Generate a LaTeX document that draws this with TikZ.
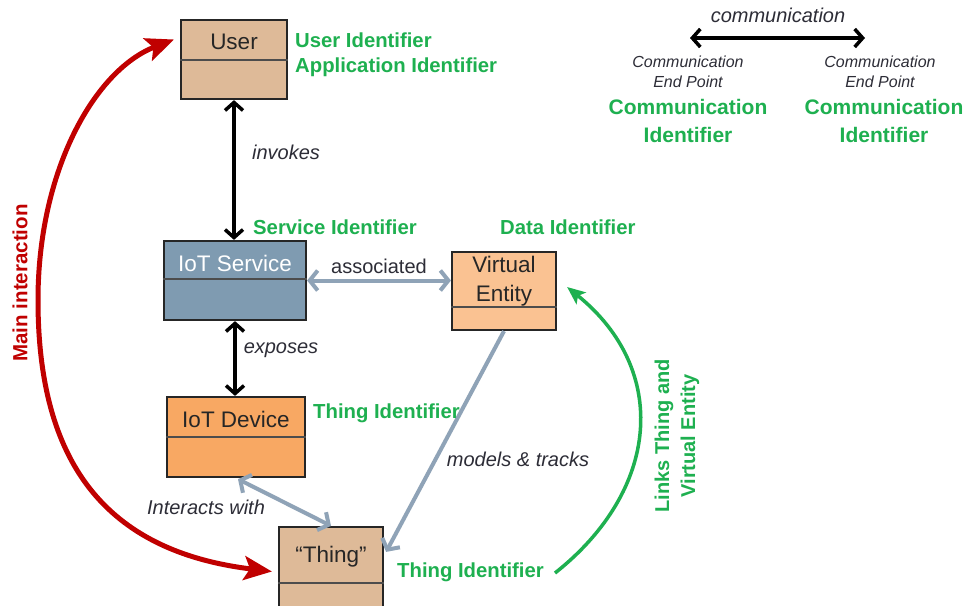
\documentclass[tikz,border=0pt]{standalone}
\usepackage{fontspec}
\setmainfont{Liberation Sans}
\usetikzlibrary{arrows.meta,calc}

\definecolor{tanfill}{RGB}{222,186,152}
\definecolor{svcfill}{RGB}{127,155,177}
\definecolor{vefill}{RGB}{250,194,146}
\definecolor{devfill}{RGB}{248,168,99}
\definecolor{idgreen}{RGB}{30,176,80}
\definecolor{mainred}{RGB}{192,0,0}
\definecolor{linkgray}{RGB}{143,163,183}
\definecolor{labelgray}{RGB}{45,45,55}

\tikzset{
  umlbox/.style={draw=black!85, line width=2.2pt, inner sep=0pt},
  divider/.style={draw=black!70, line width=1.3pt},
  boxtext/.style={font=\fontsize{22.5}{26}\selectfont, text=black!85, inner sep=0pt},
  relabel/.style={font=\fontsize{20}{24}\selectfont\itshape, text=labelgray, inner sep=0pt},
  idtext/.style={font=\fontsize{20.3}{27}\selectfont\bfseries, text=idgreen, inner sep=0pt},
  eptext/.style={font=\fontsize{16}{20}\selectfont\itshape, text=labelgray, inner sep=0pt, align=center},
  blk/.style={line width=3.5pt, black, <->, >={Straight Barb[length=8pt,width=18pt]}},
  gry/.style={line width=4pt, linkgray, >={Straight Barb[length=8pt,width=20pt]}},
  redarc/.style={line width=5pt, mainred, <->, >={Stealth[length=28pt,width=24pt,inset=6pt]}},
  greenarc/.style={line width=3.5pt, idgreen, ->, >={Stealth[length=18pt,width=15pt,inset=4pt]}}
}

\begin{document}
\begin{tikzpicture}[x=1pt,y=-1pt]
\useasboundingbox (0,0) rectangle (966,605);
\fill[white] (0,0) rectangle (966,605);
\clip (0,0) rectangle (966,605);

% ---- boxes ----
\node[umlbox, fill=tanfill, minimum width=106pt, minimum height=79pt] (user) at (234,59.5) {};
\draw[divider] (user.west |- 0,60) -- (user.east |- 0,60);
\node[boxtext] (user-t) at (234,42) {User};

\node[umlbox, fill=svcfill, minimum width=142pt, minimum height=79pt] (service) at (235,280.5) {};
\draw[divider] (service.west |- 0,279) -- (service.east |- 0,279);
\node[boxtext, text=white] (service-t) at (235,263) {IoT Service};

\node[umlbox, fill=vefill, minimum width=104pt, minimum height=78pt] (ve) at (504,291) {};
\draw[divider] (ve.west |- 0,307) -- (ve.east |- 0,307);
\node[boxtext, align=center, font=\fontsize{22.5}{29}\selectfont] (ve-t) at (504,281.5) {Virtual\\Entity};

\node[umlbox, fill=devfill, minimum width=138pt, minimum height=80pt] (device) at (236,437) {};
\draw[divider] (device.west |- 0,437) -- (device.east |- 0,437);
\node[boxtext] (device-t) at (236,419) {IoT Device};

\node[umlbox, fill=tanfill, minimum width=104pt, minimum height=113pt] (thing) at (331,583.5) {};
\draw[divider] (thing.west |- 0,583) -- (thing.east |- 0,583);
\node[boxtext] (thing-t) at (331,557) {“Thing”};

% ---- relations ----
\draw[blk] (user.south) -- (user.south |- service.north);
\node[relabel] (invokes) at (286,152) {invokes};

\draw[blk] (service.south) -- (service.south |- device.north);
\node[relabel] (exposes) at (281,350) {exposes};

\draw[gry, <->] (service.east) -- (service.east -| ve.west);
\node[font=\fontsize{20}{24}\selectfont, text=labelgray, inner sep=0pt] (assoc) at (379,266) {associated};

\coordinate (thing-in) at ($(thing.north east)+(2,26)$);
\draw[gry, ->] (ve.south) -- (thing-in);
\node[relabel] (models) at (518,459) {models \& tracks};

\draw[gry, <->] ($(device.south)+(2,1)$) -- (thing.north);
\node[relabel] (interacts) at (206,507) {Interacts with};

% ---- main interaction arc ----
\coordinate (red-top) at ($(user.west)+(-6,-20)$);
\coordinate (red-bot) at ($(thing.west)+(-6,-12)$);
\draw[redarc] (red-top) .. controls (95,70) and (38,170) .. (38,300)
                        .. controls (38,450) and (95,550) .. (red-bot);
\node[rotate=90, font=\fontsize{20.5}{24}\selectfont\bfseries, text=mainred, inner sep=0pt] (mainlbl) at (20,283) {Main interaction};

% ---- thing / virtual entity link ----
\coordinate (green-start) at (555,573);
\coordinate (green-end) at ($(ve.east)+(10,-4)$);
\draw[greenarc] (green-start) .. controls (660,490) and (670,370) .. (green-end);
\node[rotate=90, align=center, font=\fontsize{20}{26}\selectfont\bfseries, text=idgreen, inner sep=0pt] (linklbl) at (677,436) {Links Thing and\\Virtual Entity};

% ---- identifiers ----
\node[idtext, anchor=west] (uid) at (295,40) {User Identifier};
\node[idtext, anchor=west] (aid) at (295,67) {Application Identifier};
\node[idtext, anchor=west] (sid) at (253,227) {Service Identifier};
\node[idtext, anchor=west] (did) at (500,227) {Data Identifier};
\node[idtext, anchor=west] (tid1) at (313,413) {Thing Identifier};
\node[idtext, anchor=west] (tid2) at (397,572) {Thing Identifier};

% ---- communication legend ----
\coordinate (ep-left) at (690,38);
\coordinate (ep-right) at (865,38);
\draw[line width=3.5pt, black, <->, >={Straight Barb[length=8pt,width=18pt]}] (ep-left) -- (ep-right);
\node[relabel] (commlbl) at (778,15) {communication};
\node[eptext] (ep1) at (688,72) {Communication\\End Point};
\node[eptext] (ep2) at (880,72) {Communication\\End Point};
\node[idtext, align=center, font=\fontsize{21}{28}\selectfont\bfseries] (cid1) at (688,121) {Communication\\Identifier};
\node[idtext, align=center, font=\fontsize{21}{28}\selectfont\bfseries] (cid2) at (884,121) {Communication\\Identifier};
\end{tikzpicture}
\end{document}
